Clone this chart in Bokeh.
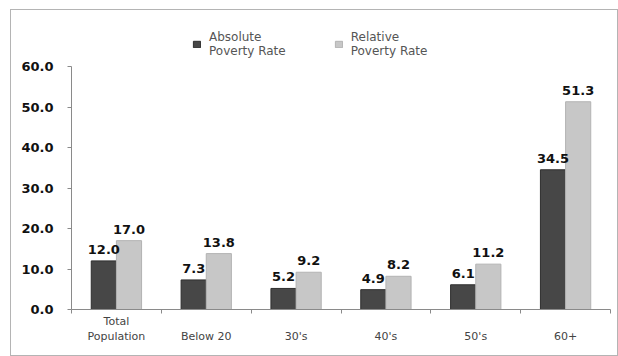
from bokeh.plotting import figure
from bokeh.models import (ColumnDataSource, FixedTicker, PrintfTickFormatter,
                          Legend, LegendItem, Range1d)
from bokeh.core.properties import value
from bokeh.embed import file_html
from bokeh.resources import INLINE

# Poverty rates (%) by age group
categories = ["Total\nPopulation", "Below 20", "30's", "40's", "50's", "60+"]
absolute_rate = [12.0, 7.3, 5.2, 4.9, 6.1, 34.5]
relative_rate = [17.0, 13.8, 9.2, 8.2, 11.2, 51.3]
y_ticks = [0, 10, 20, 30, 40, 50, 60]

BAR_W = 0.28
centers = [i + 0.5 for i in range(len(categories))]
boundaries = list(range(len(categories) + 1))

# The frame reaches above the 60 line to leave room for the legend;
# the y axis itself is bounded to 0..60.
Y_MAX = 60
PLOT_H = 243          # pixels between 0 and 60
HEAD = 46             # extra pixels above the 60 line
y_end = Y_MAX + HEAD * Y_MAX / PLOT_H

abs_src = ColumnDataSource(dict(
    x=[c - BAR_W / 2 for c in centers], top=absolute_rate,
    label=[f"{v:.1f}" for v in absolute_rate]))
rel_src = ColumnDataSource(dict(
    x=[c + BAR_W / 2 for c in centers], top=relative_rate,
    label=[f"{v:.1f}" for v in relative_rate]))

p = figure(width=606, height=345, output_backend="svg", toolbar_location=None,
           x_range=Range1d(0, len(categories)), y_range=Range1d(0, y_end),
           min_border_left=60, min_border_right=7, min_border_top=10,
           min_border_bottom=46)
p.margin = (10, 0, 0, 11)
p.styles = {"outline": "1px solid #b4b4b4"}
p.outline_line_color = None
p.xgrid.grid_line_color = None
p.ygrid.grid_line_color = None
p.background_fill_color = "white"
p.border_fill_color = "white"

r_abs = p.vbar(x="x", top="top", width=BAR_W, source=abs_src,
               fill_color="#474747", line_color="#2e2e2e")
r_rel = p.vbar(x="x", top="top", width=BAR_W, source=rel_src,
               fill_color="#c7c7c7", line_color="#b3b3b3")

for src in (abs_src, rel_src):
    p.text(x="x", y="top", text="label", source=src, text_align="center",
           text_baseline="bottom", y_offset=-7, text_color="#111111",
           text_font=value("DejaVu Sans"), text_font_size="13px",
           text_font_style="bold")

# y axis
yax = p.yaxis[0]
yax.bounds = (0, Y_MAX)
yax.ticker = FixedTicker(ticks=y_ticks, minor_ticks=[])
yax.formatter = PrintfTickFormatter(format="%.1f")
yax.axis_line_color = "#8a8a8a"
yax.major_tick_line_color = "#8a8a8a"
yax.major_tick_out = 4
yax.major_tick_in = 0
yax.major_label_standoff = 14
yax.major_label_text_font = "DejaVu Sans"
yax.major_label_text_font_size = "13px"
yax.major_label_text_font_style = "bold"
yax.major_label_text_color = "#111111"

# x axis: labels at group centres, tick marks between groups
xax = p.xaxis[0]
xax.ticker = FixedTicker(ticks=centers, minor_ticks=boundaries)
xax.major_label_overrides = {
    c: (name if "\n" in name else "\n" + name)
    for c, name in zip(centers, categories)}
xax.axis_line_color = "#8a8a8a"
xax.major_tick_out = 0
xax.major_tick_in = 0
xax.minor_tick_line_color = "#8a8a8a"
xax.minor_tick_out = 4
xax.minor_tick_in = 0
xax.major_label_standoff = 1
xax.major_label_text_font = "DejaVu Sans"
xax.major_label_text_font_size = "11px"
xax.major_label_text_color = "#444444"

legend = Legend(items=[
    LegendItem(label="Absolute\nPoverty Rate", renderers=[r_abs]),
    LegendItem(label="Relative\nPoverty Rate", renderers=[r_rel]),
], orientation="horizontal", location=(121, 251))
legend.border_line_color = None
legend.background_fill_alpha = 0
legend.label_text_font = "DejaVu Sans"
legend.label_text_font_size = "12px"
legend.label_text_color = "#555555"
legend.label_text_line_height = 1.25
legend.glyph_width = 9
legend.glyph_height = 8
legend.label_standoff = 8
legend.spacing = 48
legend.padding = 4
p.add_layout(legend, "center")

open("out.html", "w").write(file_html(p, INLINE))
